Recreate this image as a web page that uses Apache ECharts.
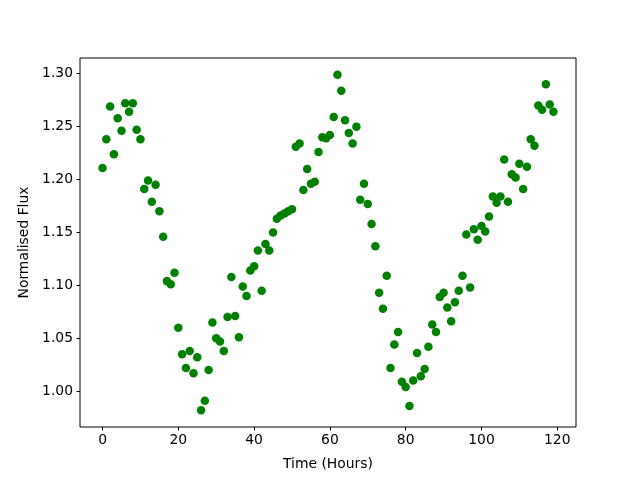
<!DOCTYPE html>
<html>
	<head>
		<meta charset="utf-8">
		<title></title>
		<style>
			html, body { margin: 0; padding: 0; background: #fff; }
		</style>
	</head>
	<body>
		<div id="container" style="width: 640px;height:480px;"></div>
	</body>
	<script src="https://cdn.jsdelivr.net/npm/echarts@6/dist/echarts.min.js"></script>
	<script type="text/javascript">
		'use strict'

		// time of each measurement (hours)
		var hours = [
			0, 1, 2, 3, 4, 5, 6, 7, 8, 9, 10, 11, 12, 13, 14, 15, 16, 17, 18, 19,
			20, 21, 22, 23, 24, 25, 26, 27, 28, 29, 30, 31, 32, 33, 34, 35, 36, 37, 38, 39,
			40, 41, 42, 43, 44, 45, 46, 47, 48, 49, 50, 51, 52, 53, 54, 55, 56, 57, 58, 59,
			60, 61, 62, 63, 64, 65, 66, 67, 68, 69, 70, 71, 72, 73, 74, 75, 76, 77, 78, 79,
			80, 81, 82, 83, 84, 85, 86, 87, 88, 89, 90, 91, 92, 93, 94, 95, 96, 97, 98, 99,
			100, 101, 102, 103, 104, 105, 106, 107, 108, 109, 110, 111, 112, 113, 114, 115, 116, 117, 118, 119
		];
		// normalised flux
		var flux = [
			1.211, 1.238, 1.269, 1.224, 1.258, 1.246, 1.272, 1.264, 1.272, 1.247,
			1.238, 1.191, 1.199, 1.179, 1.195, 1.170, 1.146, 1.104, 1.101, 1.112,
			1.060, 1.035, 1.022, 1.038, 1.017, 1.032, 0.982, 0.991, 1.020, 1.065,
			1.050, 1.047, 1.038, 1.070, 1.108, 1.071, 1.051, 1.099, 1.090, 1.114,
			1.118, 1.133, 1.095, 1.139, 1.133, 1.150, 1.163, 1.166, 1.168, 1.170,
			1.172, 1.231, 1.234, 1.190, 1.210, 1.196, 1.198, 1.226, 1.240, 1.239,
			1.242, 1.259, 1.299, 1.284, 1.256, 1.244, 1.234, 1.250, 1.181, 1.196,
			1.177, 1.158, 1.137, 1.093, 1.078, 1.109, 1.022, 1.044, 1.056, 1.009,
			1.004, 0.986, 1.010, 1.036, 1.014, 1.021, 1.042, 1.063, 1.056, 1.089,
			1.093, 1.079, 1.066, 1.084, 1.095, 1.109, 1.148, 1.098, 1.153, 1.143,
			1.156, 1.151, 1.165, 1.184, 1.178, 1.184, 1.219, 1.179, 1.205, 1.202,
			1.215, 1.191, 1.212, 1.238, 1.232, 1.270, 1.266, 1.290, 1.271, 1.264
		];
		var xTicks = [0, 20, 40, 60, 80, 100, 120];
		var yTicks = [1.00, 1.05, 1.10, 1.15, 1.20, 1.25, 1.30];

		var points = [];
		for (var i = 0; i < hours.length; i++) {
			points.push([hours[i], flux[i]]);
		}

		// 5% margins like matplotlib autoscale
		var xMin = Math.min.apply(null, hours), xMax = Math.max.apply(null, hours);
		var yMin = Math.min.apply(null, flux), yMax = Math.max.apply(null, flux);
		var xPad = (xMax - xMin) * 0.05, yPad = (yMax - yMin) * 0.05;

		var font = 'DejaVu Sans';
		var myCharts = echarts.init(document.getElementById('container'));
		var option = {
			animation: false,
			backgroundColor: '#fff',
			grid: {
				left: 80,
				right: 64,
				top: 58,
				bottom: 53,
				show: true,
				borderColor: '#000',
				borderWidth: 1,
				backgroundColor: 'transparent'
			},
			xAxis: {
				type: 'value',
				min: xMin - xPad,
				max: xMax + xPad,
				name: 'Time (Hours)',
				nameLocation: 'middle',
				nameGap: 30,
				nameTextStyle: { color: '#000', fontFamily: font, fontSize: 13.9 },
				axisLine: { show: false, onZero: false },
				axisTick: {
					show: true,
					length: 3.5,
					customValues: xTicks,
					lineStyle: { color: '#000', width: 1 }
				},
				axisLabel: {
					customValues: xTicks,
					margin: 6,
					color: '#000',
					fontFamily: font,
					fontSize: 13.9
				},
				splitLine: { show: false }
			},
			yAxis: {
				type: 'value',
				min: yMin - yPad,
				max: yMax + yPad,
				name: 'Normalised Flux',
				nameLocation: 'middle',
				nameGap: 44,
				nameTextStyle: { color: '#000', fontFamily: font, fontSize: 13.9 },
				axisLine: { show: false, onZero: false },
				axisTick: {
					show: true,
					length: 3.5,
					customValues: yTicks,
					lineStyle: { color: '#000', width: 1 }
				},
				axisLabel: {
					customValues: yTicks,
					margin: 7,
					color: '#000',
					fontFamily: font,
					fontSize: 13.9,
					formatter: function(v) { return v.toFixed(2); }
				},
				splitLine: { show: false }
			},
			series: [{
				type: 'scatter',
				data: points,
				symbol: 'circle',
				symbolSize: 8.5,
				itemStyle: { color: '#008000', opacity: 1 }
			}]
		};
		myCharts.setOption(option);
	</script>
</html>
